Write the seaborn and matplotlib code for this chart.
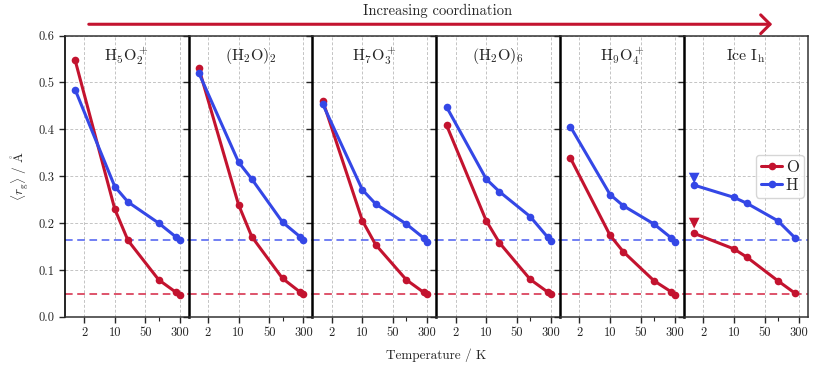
import numpy as np
import pandas as pd
import matplotlib
matplotlib.use("Agg")
import matplotlib.pyplot as plt
import matplotlib.ticker as mticker
import seaborn as sns

# ---------------- data ----------------
systems = [r"$\mathrm{H_5O_2^+}$", r"$\mathrm{(H_2O)_2}$", r"$\mathrm{H_7O_3^+}$",
           r"$\mathrm{(H_2O)_6}$", r"$\mathrm{H_9O_4^+}$", r"$\mathrm{Ice\ I_h}$"]
temps = [1.25, 10, 20, 100, 250, 300]
temps_ice = [1.25, 10, 20, 100, 250]

rg_O = [
    [0.548, 0.230, 0.163, 0.079, 0.052, 0.047],
    [0.530, 0.239, 0.171, 0.082, 0.053, 0.048],
    [0.461, 0.205, 0.154, 0.079, 0.052, 0.048],
    [0.409, 0.205, 0.158, 0.080, 0.053, 0.048],
    [0.339, 0.174, 0.139, 0.077, 0.053, 0.047],
    [0.178, 0.145, 0.127, 0.077, 0.050],
]
rg_H = [
    [0.485, 0.278, 0.245, 0.200, 0.170, 0.163],
    [0.520, 0.330, 0.294, 0.202, 0.171, 0.163],
    [0.454, 0.271, 0.241, 0.198, 0.168, 0.160],
    [0.448, 0.294, 0.267, 0.214, 0.170, 0.161],
    [0.406, 0.261, 0.237, 0.198, 0.168, 0.159],
    [0.281, 0.255, 0.242, 0.205, 0.168],
]
ice_tri_T = [1.25, 1.25]
ice_tri_rg = [0.200, 0.296]
ice_tri_atom = ["O", "H"]
ref_O = 0.049
ref_H = 0.164

xticks = [2, 10, 50, 300]
yticks = [0.0, 0.1, 0.2, 0.3, 0.4, 0.5, 0.6]

RED = "#c3132f"
BLUE = "#3447e6"
palette = {"O": RED, "H": BLUE}

# ---------------- style ----------------
sns.set_style("ticks")
plt.rcParams["font.family"] = ["cmr10", "DejaVu Serif"]
plt.rcParams["mathtext.fontset"] = "cm"
plt.rcParams["axes.formatter.use_mathtext"] = True
plt.rcParams["axes.unicode_minus"] = False

fig = plt.figure(figsize=(8.31, 3.79), dpi=100)
axes = fig.subplots(1, 6, sharey=True, gridspec_kw=dict(wspace=0))
fig.subplots_adjust(left=0.078, right=0.972, top=0.906, bottom=0.164)

for i, ax in enumerate(axes):
    T = temps_ice if i == 5 else temps
    df = pd.DataFrame({
        "T": list(T) + list(T),
        "rg": list(rg_O[i]) + list(rg_H[i]),
        "atom": ["O"] * len(T) + ["H"] * len(T),
    })
    ax.axhline(ref_H, color="#4a5cf0", lw=1.1, ls=(0, (5, 3)), zorder=2)
    ax.axhline(ref_O, color="#d42443", lw=1.1, ls=(0, (5, 3)), zorder=2)
    sns.lineplot(data=df, x="T", y="rg", hue="atom", hue_order=["O", "H"],
                 palette=palette, marker="o", markersize=5.5, markeredgewidth=0,
                 lw=2.2, ax=ax, legend=(i == 5), zorder=3)
    if i == 5:
        tri = pd.DataFrame({"T": ice_tri_T, "rg": ice_tri_rg, "atom": ice_tri_atom})
        sns.scatterplot(data=tri, x="T", y="rg", hue="atom", palette=palette,
                        marker="v", s=60, linewidth=0, ax=ax, legend=False, zorder=4)

    ax.set_xscale("log")
    ax.set_xlim(0.73, 480)
    ax.set_ylim(0, 0.6)
    ax.xaxis.set_major_locator(mticker.FixedLocator(xticks))
    ax.xaxis.set_major_formatter(mticker.FixedFormatter([str(t) for t in xticks]))
    ax.xaxis.set_minor_locator(mticker.FixedLocator([100]))
    ax.xaxis.set_minor_formatter(mticker.NullFormatter())
    ax.set_yticks(yticks)
    ax.grid(True, which="major", color="#c4c4c4", lw=0.7, ls=(0, (3, 2)), zorder=0)
    ax.set_axisbelow(True)
    ax.tick_params(axis="both", which="major", labelsize=9, length=4, width=1, direction="out")
    ax.tick_params(axis="x", which="minor", length=3, width=0.8)
    ax.set_xlabel("")
    ax.set_ylabel("")
    ax.text(0.5, 0.928, systems[i], transform=ax.transAxes, ha="center", va="center",
            fontsize=11.5)
    for s in ["top", "bottom", "right"]:
        ax.spines[s].set_color("#333333")
        ax.spines[s].set_linewidth(1.1)
    ax.spines["left"].set_color("black")
    ax.spines["left"].set_linewidth(1.8 if i > 0 else 1.2)
    if i < 5:
        ax.spines["right"].set_visible(False)

axes[0].set_ylabel(r"$\langle r_{\mathrm{g}}\rangle\ /\ \mathring{\mathrm{A}}$", fontsize=9.5)
axes[0].yaxis.set_label_coords(-0.27, 0.5)
axes[0].yaxis.set_major_formatter(mticker.FormatStrFormatter("%.1f"))

h, l = axes[5].get_legend_handles_labels()
axes[5].legend(h, l, loc="center right", fontsize=12, handlelength=1.3,
               handletextpad=0.2, borderpad=0.3, labelspacing=0.15,
               borderaxespad=0.25, frameon=True)

fig.text(0.525, 0.0615, "Temperature / K", ha="center", va="center", fontsize=9.5)

fig.add_artist(matplotlib.patches.FancyArrowPatch(
    (0.1035, 0.936), (0.9326, 0.936), transform=fig.transFigure,
    arrowstyle="->,head_length=0.45,head_width=0.45", mutation_scale=15,
    color=RED, lw=2.2))
fig.text(0.527, 0.971, "Increasing coordination", ha="center", va="center", fontsize=10.5)

fig.savefig("out.png", dpi=100)
